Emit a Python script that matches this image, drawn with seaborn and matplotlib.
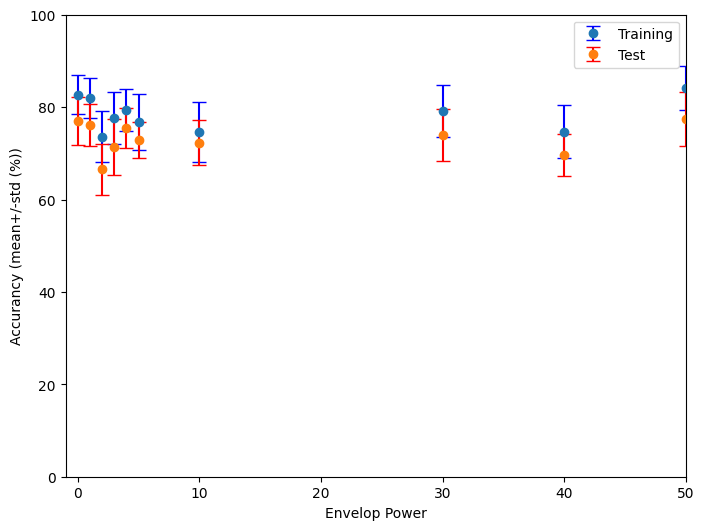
import matplotlib
matplotlib.use('Agg')
import matplotlib.pyplot as plt
import numpy as np
import seaborn as sns

powers = [0, 1, 2, 3, 4, 5, 10, 30, 40, 50]
train_mean = [82.7, 82.0, 73.6, 77.7, 79.4, 76.8, 74.7, 79.2, 74.7, 84.1]
train_std = [4.2, 4.3, 5.5, 5.6, 4.6, 6.0, 6.5, 5.6, 5.7, 4.8]
test_mean = [77.0, 76.1, 66.5, 71.4, 75.5, 72.9, 72.3, 74.0, 69.6, 77.4]
test_std = [5.1, 4.5, 5.6, 6.1, 4.4, 3.9, 4.9, 5.7, 4.6, 5.9]

colors = sns.color_palette('tab10')

plt.figure(figsize=(8, 6))
plt.errorbar(powers, train_mean, yerr=train_std, fmt='o', color=colors[0],
             ecolor='blue', capsize=5, label='Training')
plt.errorbar(powers, test_mean, yerr=test_std, fmt='o', color=colors[1],
             ecolor='red', capsize=5, label='Test')
plt.xlim(-1, 50)
plt.ylim(0, 100)
plt.xlabel('Envelop Power')
plt.ylabel('Accurancy (mean+/-std (%))')
plt.legend(loc='upper right')
plt.savefig('out.png', dpi=100, bbox_inches='tight')
plt.close()
